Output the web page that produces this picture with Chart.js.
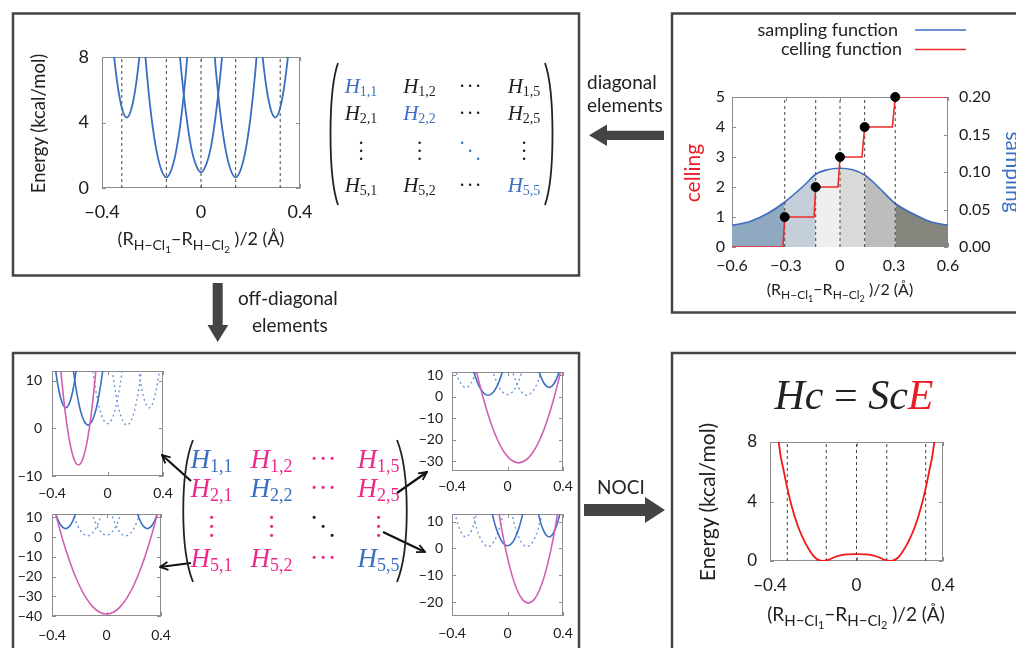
<!DOCTYPE html>
<html lang="en">
<head>
<meta charset="UTF-8" />
<title>NOCI from diabatic states</title>
<script src="https://cdn.jsdelivr.net/npm/chart.js"></script>
<style>
  body { margin: 0; width: 1016px; height: 648px; overflow: hidden; background: #fff; position: relative; }
  canvas { position: absolute; }
  #overlay { position: absolute; left: 0; top: 0; }
  .sans { font-family: Lato, "Open Sans", sans-serif; fill: #222; }
  .mi { font-family: "Liberation Serif", "DejaVu Serif", serif; font-style: italic; }
  .dots { font-family: "Liberation Serif", serif; font-weight: normal; }
</style>
</head>
<body>
<canvas id="energyChart" width="260" height="175" style="left:60px;top:45px"></canvas>
<canvas id="samplingChart" width="308" height="194" style="left:690px;top:85px"></canvas>
<canvas id="nociChart" width="235" height="163" style="left:728px;top:430px"></canvas>
<canvas id="h21Chart" width="163" height="141" style="left:14px;top:361px"></canvas>
<canvas id="h51Chart" width="161" height="138" style="left:14px;top:504px"></canvas>
<canvas id="h25Chart" width="163" height="135" style="left:414px;top:362px"></canvas>
<canvas id="h35Chart" width="163" height="138" style="left:414px;top:504px"></canvas>

<svg id="overlay" width="1016" height="648" xmlns="http://www.w3.org/2000/svg">
  <defs>
    <marker id="tip" viewBox="0 0 10 10" refX="9" refY="5" markerWidth="10" markerHeight="10" markerUnits="userSpaceOnUse" orient="auto">
      <path d="M1,1 L9,5 L1,9" fill="none" stroke="#111" stroke-width="1.8"/>
    </marker>
  </defs>
  <!-- panel frames -->
  <g fill="none" stroke="#444" stroke-width="2.5">
    <rect x="13" y="13.5" width="566" height="262"/>
    <rect x="672" y="13.5" width="360" height="299"/>
    <rect x="13" y="353" width="566" height="310"/>
    <rect x="672" y="353" width="360" height="310"/>
  </g>
  <!-- big arrows -->
  <g fill="#444">
    <polygon points="589,135.3 607,124.5 607,130.7 664,130.7 664,140 607,140 607,146"/>
    <polygon points="212.7,283 222.7,283 222.7,325 228.3,325 217.7,342 207.5,325 212.7,325"/>
    <polygon points="584,504 645,504 645,497 665,510 645,523 645,516 584,516"/>
  </g>
  <!-- element arrows -->
  <g stroke="#111" stroke-width="2.2" fill="none" marker-end="url(#tip)">
    <line x1="191" y1="481" x2="162" y2="455"/>
    <line x1="191" y1="563" x2="160" y2="567"/>
    <line x1="397" y1="493" x2="427" y2="472"/>
    <line x1="383" y1="532" x2="425" y2="552"/>
  </g>
  <!-- annotations -->
  <g class="sans" font-size="19">
    <text x="587" y="89">diagonal</text>
    <text x="587" y="112">elements</text>
    <text x="238" y="305">off-diagonal</text>
    <text x="252" y="332">elements</text>
    <text x="597" y="494">NOCI</text>
  </g>
  <!-- legend of the sampling panel -->
  <g class="sans" font-size="18" text-anchor="end">
    <text x="898" y="36">sampling function</text>
    <text x="902" y="55">celling function</text>
  </g>
  <line x1="915" y1="30" x2="966" y2="30" stroke="#3d6cc0" stroke-width="1.6"/>
  <line x1="915" y1="49.5" x2="966" y2="49.5" stroke="#ee2b2b" stroke-width="1.6"/>
  <!-- axis titles -->
  <g class="sans">
    <text transform="translate(45,123.5) rotate(-90)" text-anchor="middle" font-size="18.5">Energy (kcal/mol)</text>
    <text transform="translate(715,502) rotate(-90)" text-anchor="middle" font-size="21">Energy (kcal/mol)</text>
    <text transform="translate(700,173) rotate(-90)" text-anchor="middle" font-size="21" style="fill:#ee1d23">celling</text>
    <text transform="translate(1006,172) rotate(90)" text-anchor="middle" font-size="21" style="fill:#3b6fc4">sampling</text>
    <text x="201" y="245" text-anchor="middle" font-size="18">(R<tspan font-size="14" dy="5">H−Cl</tspan><tspan font-size="10" dy="3">1</tspan><tspan dy="-8">−R</tspan><tspan font-size="14" dy="5">H−Cl</tspan><tspan font-size="10" dy="3">2</tspan><tspan dy="-8">&#160;)/2 (Å)</tspan></text>
    <text x="840" y="295" text-anchor="middle" font-size="16">(R<tspan font-size="12" dy="4">H−Cl</tspan><tspan font-size="9" dy="3">1</tspan><tspan dy="-7">−R</tspan><tspan font-size="12" dy="4">H−Cl</tspan><tspan font-size="9" dy="3">2</tspan><tspan dy="-7">&#160;)/2 (Å)</tspan></text>
    <text x="856" y="621" text-anchor="middle" font-size="19">(R<tspan font-size="15" dy="5">H−Cl</tspan><tspan font-size="11" dy="3">1</tspan><tspan dy="-8">−R</tspan><tspan font-size="15" dy="5">H−Cl</tspan><tspan font-size="11" dy="3">2</tspan><tspan dy="-8">&#160;)/2 (Å)</tspan></text>
  </g>
  <!-- generalized eigenvalue problem -->
  <text x="854" y="409" text-anchor="middle" font-family="Liberation Serif, serif" font-size="42" fill="#222"><tspan font-style="italic">Hc</tspan> = <tspan font-style="italic">Sc</tspan><tspan font-style="italic" fill="#ec1c24">E</tspan></text>
  <!-- matrix brackets -->
  <g fill="none" stroke="#222" stroke-width="1.8">
    <path d="M338,63 C328,92 328,176 338,205"/>
    <path d="M545,63 C555,92 555,176 545,205"/>
    <path d="M193,440 C180,472 180,550 193,582"/>
    <path d="M397,440 C410,472 410,550 397,582"/>
  </g>
  <g id="topMatrix"></g>
  <g id="bottomMatrix"></g>
</svg>

<script>
  // ---------- data ----------
  const energyTicks = [0, 4, 8];
  const energyRange = [0, 8];
  const posTicks = [-0.4, 0, 0.4];
  const posRange = [-0.4, 0.4];
  const stateCenters = [-0.32, -0.14, 0, 0.14, 0.32];

  // diabatic (single determinant) curves, kcal/mol
  const diab1X = [-0.38, -0.36, -0.34, -0.32, -0.30, -0.28, -0.26, -0.24, -0.22];
  const diab1Y = [13.4, 9.4, 6.6, 4.9, 4.3, 4.9, 6.6, 9.4, 13.4];
  const diab2X = [-0.26, -0.24, -0.22, -0.20, -0.18, -0.16, -0.14, -0.12, -0.10, -0.08, -0.06, -0.04, -0.02];
  const diab2Y = [15.3, 10.9, 7.2, 4.3, 2.3, 1.1, 0.65, 1.1, 2.3, 4.3, 7.2, 10.9, 15.3];
  const diab3X = [-0.12, -0.10, -0.08, -0.06, -0.04, -0.02, 0, 0.02, 0.04, 0.06, 0.08, 0.10, 0.12];
  const diab3Y = [15.1, 10.8, 7.2, 4.5, 2.5, 1.4, 0.97, 1.4, 2.5, 4.5, 7.2, 10.8, 15.1];
  const diab4X = [0.02, 0.04, 0.06, 0.08, 0.10, 0.12, 0.14, 0.16, 0.18, 0.20, 0.22, 0.24, 0.26];
  const diab4Y = [15.3, 10.9, 7.2, 4.3, 2.3, 1.1, 0.65, 1.1, 2.3, 4.3, 7.2, 10.9, 15.3];
  const diab5X = [0.22, 0.24, 0.26, 0.28, 0.30, 0.32, 0.34, 0.36, 0.38];
  const diab5Y = [13.4, 9.4, 6.6, 4.9, 4.3, 4.9, 6.6, 9.4, 13.4];

  // off-diagonal element curves
  const h21X = [-0.35, -0.33, -0.31, -0.29, -0.27, -0.25, -0.23, -0.21, -0.19, -0.17, -0.15, -0.13, -0.11, -0.09, -0.07];
  const h21Y = [16.6, 10.2, 4.7, 0.2, -3.2, -5.7, -7.2, -7.7, -7.2, -5.7, -3.2, 0.2, 4.7, 10.2, 16.6];
  const h51X = [-0.4, -0.35, -0.3, -0.25, -0.2, -0.15, -0.1, -0.05, 0, 0.05, 0.1, 0.15, 0.2, 0.25, 0.3, 0.35, 0.4];
  const h51Y = [19.4, 5.7, -6.2, -16.2, -24.4, -30.8, -35.4, -38.1, -39, -38.1, -35.4, -30.8, -24.4, -16.2, -6.2, 5.7, 19.4];
  const h25X = [-0.27, -0.22, -0.17, -0.12, -0.07, -0.02, 0.03, 0.08, 0.13, 0.18, 0.23, 0.28, 0.33, 0.38, 0.43];
  const h25Y = [26, 11.0, -1.8, -12.2, -20.4, -26.2, -29.6, -30.8, -29.6, -26.2, -20.4, -12.2, -1.8, 11.0, 26];
  const h35X = [-0.09, -0.05, -0.01, 0.03, 0.07, 0.11, 0.15, 0.19, 0.23, 0.27, 0.31, 0.35, 0.39];
  const h35Y = [22.8, 9.6, -1.2, -9.6, -15.6, -19.2, -20.4, -19.2, -15.6, -9.6, -1.2, 9.6, 22.8];

  const h21Ticks = [-10, 0, 10];
  const h21Range = [-10, 12];
  const h51Ticks = [-40, -30, -20, -10, 0, 10];
  const h51Range = [-40, 11.7];
  const h25Ticks = [-30, -20, -10, 0, 10];
  const h25Range = [-34.6, 11.5];
  const h35Ticks = [-20, -10, 0, 10];
  const h35Range = [-25.2, 12.8];

  // NOCI ground state
  const nociX = [-0.375, -0.36, -0.35, -0.34, -0.32, -0.30, -0.27, -0.24, -0.21, -0.19, -0.16, -0.13, -0.10, -0.07, -0.04, 0,
                 0.04, 0.07, 0.10, 0.13, 0.16, 0.19, 0.21, 0.24, 0.27, 0.30, 0.32, 0.34, 0.35, 0.36, 0.375];
  const nociY = [9.2, 8.0, 7.0, 6.3, 4.9, 3.7, 2.3, 1.3, 0.55, 0.2, 0.0, 0.08, 0.27, 0.40, 0.45, 0.46,
                 0.45, 0.40, 0.27, 0.08, 0.0, 0.2, 0.55, 1.3, 2.3, 3.7, 4.9, 6.3, 7.0, 8.0, 9.2];

  // sampling and celling functions
  const samplePosTicks = [-0.6, -0.3, 0, 0.3, 0.6];
  const samplePosRange = [-0.6, 0.6];
  const ceilTicks = [0, 1, 2, 3, 4, 5];
  const ceilRange = [0, 5];
  const sampTicks = [0, 0.05, 0.1, 0.15, 0.2];
  const sampRange = [0, 0.2];
  const sampleX = [-0.6, -0.5, -0.4, -0.307, -0.2, -0.135, -0.07, 0, 0.07, 0.137, 0.2, 0.307, 0.4, 0.5, 0.6];
  const sampleY = [0.029, 0.034, 0.045, 0.060, 0.082, 0.097, 0.103, 0.105, 0.103, 0.096, 0.083, 0.058, 0.045, 0.034, 0.029];
  const sampleEdges = [-0.307, -0.135, 0, 0.137, 0.307];
  const regionColors = ['#8fa9c0', '#c4cfd9', '#efefef', '#d9d9d9', '#bdbdbd', '#86867f'];
  const stepX = [-0.6, -0.317, -0.307, -0.144, -0.135, -0.011, 0, 0.122, 0.137, 0.291, 0.307, 0.6];
  const stepY = [0, 0, 1, 1, 2, 2, 3, 3, 4, 4, 5, 5];
  const dotX = [-0.307, -0.135, 0, 0.137, 0.307];
  const dotY = [1, 2, 3, 4, 5];

  // ---------- helpers ----------
  const BLUE = '#3a6ec0';
  const MAGENTA = '#d160b5';

  Chart.defaults.font.family = "Lato, 'Open Sans', sans-serif";
  Chart.defaults.color = '#1a1a1a';

  const minus = v => (v < 0 ? '\u2212' : '') + Math.abs(v);
  const pts = (xs, ys) => xs.map((x, i) => ({ x, y: ys[i] }));

  function curve(xs, ys, color, extra) {
    return Object.assign({
      data: pts(xs, ys), borderColor: color, borderWidth: 1.8, pointRadius: 0,
      cubicInterpolationMode: 'monotone', fill: false
    }, extra);
  }
  function dashes(xs, range, extra) {
    return xs.map(x => Object.assign({
      data: [{ x, y: range[0] }, { x, y: range[1] }],
      borderColor: '#444', borderWidth: 1, borderDash: [3, 3], pointRadius: 0, tension: 0, order: 8
    }, extra));
  }
  function xAxis(range, ticks, size, pad, h) {
    return {
      type: 'linear', min: range[0], max: range[1],
      afterBuildTicks: s => { s.ticks = ticks.map(value => ({ value })); },
      afterFit: s => { s.height = h; s.paddingLeft = 0; s.paddingRight = 0; },
      grid: { display: false, drawTicks: false }, border: { display: false },
      ticks: { font: { size }, padding: pad, maxRotation: 0, autoSkip: false, callback: minus }
    };
  }
  function yAxis(range, ticks, size, pad, w, position, fmt) {
    return {
      type: 'linear', position: position || 'left', min: range[0], max: range[1],
      afterBuildTicks: s => { s.ticks = ticks.map(value => ({ value })); },
      afterFit: s => { s.width = w; s.paddingTop = 0; s.paddingBottom = 0; },
      grid: { display: false, drawTicks: false }, border: { display: false },
      ticks: { font: { size }, padding: pad, autoSkip: false, callback: fmt || minus }
    };
  }

  // plot frame with small inward tick marks on every side
  const framePlugin = {
    id: 'frame',
    beforeDatasetsDraw(chart) {
      const { ctx, chartArea: a, scales } = chart;
      ctx.save();
      ctx.strokeStyle = '#8c8c8c';
      ctx.lineWidth = 1;
      ctx.strokeRect(a.left + 0.5, a.top + 0.5, a.width - 1, a.height - 1);
      ctx.beginPath();
      scales.x.ticks.forEach(t => {
        const p = Math.round(scales.x.getPixelForValue(t.value)) + 0.5;
        ctx.moveTo(p, a.bottom); ctx.lineTo(p, a.bottom - 4);
        ctx.moveTo(p, a.top); ctx.lineTo(p, a.top + 4);
      });
      const yl = scales.y, yr = scales.y2 || scales.y;
      yl.ticks.forEach(t => {
        const p = Math.round(yl.getPixelForValue(t.value)) + 0.5;
        ctx.moveTo(a.left, p); ctx.lineTo(a.left + 4, p);
      });
      yr.ticks.forEach(t => {
        const p = Math.round(yr.getPixelForValue(t.value)) + 0.5;
        ctx.moveTo(a.right, p); ctx.lineTo(a.right - 4, p);
      });
      ctx.stroke();
      ctx.restore();
    }
  };

  function makeChart(id, datasets, scales, pad) {
    return new Chart(document.getElementById(id), {
      type: 'line',
      data: { datasets },
      options: {
        responsive: false, animation: false, events: [],
        layout: { autoPadding: false, padding: { top: pad[0], right: pad[1], bottom: 0, left: 0 } },
        plugins: { legend: { display: false }, tooltip: { enabled: false } },
        scales
      },
      plugins: [framePlugin]
    });
  }

  const diabX = [diab1X, diab2X, diab3X, diab4X, diab5X];
  const diabY = [diab1Y, diab2Y, diab3Y, diab4Y, diab5Y];

  // ---------- diagonal elements ----------
  makeChart('energyChart', [
    ...diabX.map((xs, i) => curve(xs, diabY[i], BLUE, { order: 1 })),
    ...dashes(stateCenters, energyRange)
  ], {
    x: xAxis(posRange, posTicks, 18, 13, 32),
    y: yAxis(energyRange, energyTicks, 18, 13, 42)
  }, [12, 20]);

  // ---------- sampling / celling ----------
  const regionOf = x => sampleEdges.filter(e => x >= e - 1e-9).length;
  makeChart('samplingChart', [
    curve(sampleX, sampleY, '#3d6cc0', {
      yAxisID: 'y2', fill: 'origin', borderWidth: 1.6, order: 10,
      segment: { backgroundColor: c => regionColors[regionOf(c.p0.parsed.x)] }
    }),
    ...dashes(dotX, ceilRange),
    curve(stepX, stepY, '#ee2b2b', { cubicInterpolationMode: 'default', tension: 0, borderWidth: 1.6, order: 2 }),
    { data: pts(dotX, dotY), showLine: false, pointRadius: 4.5, pointBackgroundColor: '#000',
      pointBorderColor: '#000', clip: false, order: 1 }
  ], {
    x: xAxis(samplePosRange, samplePosTicks, 16, 9, 32),
    y: yAxis(ceilRange, ceilTicks, 16, 7, 42),
    y2: yAxis(sampRange, sampTicks, 16, 11, 50, 'right', v => v.toFixed(2))
  }, [12, 0]);

  // ---------- NOCI result ----------
  makeChart('nociChart', [
    curve(nociX, nociY, '#f01818', { order: 1 }),
    ...dashes(stateCenters, energyRange)
  ], {
    x: xAxis(posRange, posTicks, 17, 14, 32),
    y: yAxis(energyRange, energyTicks, 17, 13, 42)
  }, [12, 20]);

  // ---------- off-diagonal elements ----------
  function offDiag(id, ox, oy, solid, range, ticks, xpad, ypad, pad) {
    const sets = [curve(ox, oy, MAGENTA, { order: 1, borderWidth: 1.6 })];
    diabX.forEach((xs, i) => {
      const on = solid.includes(i + 1);
      sets.push(curve(xs, diabY[i], BLUE, on
        ? { order: 2, borderWidth: 1.6 }
        : { order: 3, borderWidth: 1.4, borderDash: [2, 3], borderColor: '#6d97d8' }));
    });
    makeChart(id, sets, {
      x: xAxis(posRange, posTicks, 14, xpad, 26),
      y: yAxis(range, ticks, 14, ypad, 38)
    }, pad);
  }
  offDiag('h21Chart', h21X, h21Y, [1, 2], h21Range, h21Ticks, 9, 10, [10, 14]);
  offDiag('h51Chart', h51X, h51Y, [1, 5], h51Range, h51Ticks, 11, 10, [10, 14]);
  offDiag('h25Chart', h25X, h25Y, [2, 5], h25Range, h25Ticks, 7, 9, [10, 14]);
  offDiag('h35Chart', h35X, h35Y, [3, 5], h35Range, h35Ticks, 9, 9, [10, 14]);

  // ---------- Hamiltonian matrices ----------
  const svgNS = 'http://www.w3.org/2000/svg';
  const matrixIdx = [1, 2, null, 5];

  // three periods laid out as ⋯, ⋮ or ⋱ around (cx, cy)
  function dotText(g, cx, cy, kind, gap, size, fill) {
    const t = document.createElementNS(svgNS, 'text');
    t.setAttribute('class', 'dots');
    t.setAttribute('font-size', size);
    t.setAttribute('fill', fill);
    t.setAttribute('text-anchor', 'middle');
    [-1, 0, 1].forEach(k => {
      const s = document.createElementNS(svgNS, 'tspan');
      const dx = kind === 'v' ? 0 : k * gap;
      const dy = kind === 'h' ? 0 : k * gap;
      s.setAttribute('x', cx + dx);
      s.setAttribute('y', cy + dy + size * 0.05);
      s.textContent = '.';
      t.appendChild(s);
    });
    g.appendChild(t);
  }

  function buildMatrix(gid, cols, rows, size, sub, gap, color) {
    const g = document.getElementById(gid);
    rows.forEach((y, r) => cols.forEach((x, c) => {
      if (r === 2 || c === 2) {
        const kind = r === 2 && c === 2 ? 'd' : r === 2 ? 'v' : 'h';
        const cy = r === 2 ? y : y - size * 0.33;
        dotText(g, x, cy, kind, gap, size, color(r, c));
        return;
      }
      const t = document.createElementNS(svgNS, 'text');
      t.setAttribute('x', x);
      t.setAttribute('y', y);
      t.setAttribute('text-anchor', 'middle');
      t.setAttribute('fill', color(r, c));
      t.setAttribute('class', 'mi');
      t.setAttribute('font-size', size);
      t.textContent = 'H';
      const s = document.createElementNS(svgNS, 'tspan');
      s.setAttribute('font-size', sub);
      s.setAttribute('font-style', 'normal');
      s.setAttribute('dy', size * 0.15);
      s.textContent = matrixIdx[r] + ',' + matrixIdx[c];
      t.appendChild(s);
      g.appendChild(t);
    }));
  }

  const diagBlue = '#3b6fc4';
  buildMatrix('topMatrix', [361, 419.5, 470, 524], [93, 120, 151, 192], 21, 14, 8,
    (r, c) => (r === c ? diagBlue : '#231f20'));
  buildMatrix('bottomMatrix', [211.5, 271.5, 323, 378.5], [468, 497, 527, 567], 27, 18, 9,
    (r, c) => (r === c ? (r === 2 ? '#231f20' : diagBlue) : '#ec2a8c'));
</script>
</body>
</html>
